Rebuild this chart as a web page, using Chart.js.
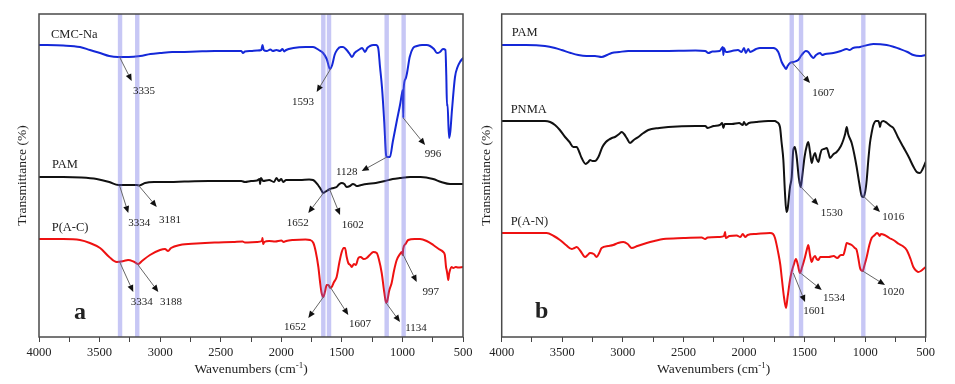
<!DOCTYPE html>
<html><head><meta charset="utf-8">
<script src="https://cdn.jsdelivr.net/npm/chart.js@4.4.1/dist/chart.umd.min.js"></script>
<style>
html,body{margin:0;padding:0;background:#fff;}
#wrap{position:relative;width:955px;height:384px;overflow:hidden;}
.box{position:absolute;top:0;height:384px;}
</style></head><body>
<div id="wrap">
<div class="box" style="left:0;width:478px"><canvas id="ca" width="478" height="384"></canvas></div>
<div class="box" style="left:478px;width:477px"><canvas id="cb" width="477" height="384"></canvas></div>
</div>
<script>
// ---------- Data (wavenumber cm-1, transmittance in arbitrary offset units) ----------
const xTicks = [4000, 3500, 3000, 2500, 2000, 1500, 1000, 500];

// Panel a
const cmcWn = [4000,3800,3662,3580,3496,3420,3348,3260,3166,3080,3001,2900,2836,2700,2550,2398,2330,2316,2300,2250,2200,2165,2155,2145,2120,2090,2070,2040,2010,1990,1975,1960,1900,1800,1738,1690,1655,1625,1598,1580,1560,1540,1510,1490,1460,1435,1416,1395,1375,1350,1333,1320,1309,1290,1268,1240,1218,1200,1185,1169,1150,1135,1128,1103,1080,1045,1020,1003,997,993,990,975,962,940,912,880,838,800,772,740,715,690,665,645,638,632,628,615,605,591,566,545,525,500];
const cmcT  = [292,291.5,290,287,284,281,280,280,281,283,284,285,285,285.5,286,286,286,284,285.5,286,286.5,287,292,287,286,287.5,286,287,286,288,285.5,287,289,290,290,287,284,278,268,272,282,287,290,290,287,283,280,284,286,288,289,287,285,289,291,292,292,289,270,250,215,182,180,180,195,217,232,244,247,219,248,258,264,280,289,291,292,292,291,288,284,285,288,287,262,231,233,199,205,227,260,270,275,279];

const pamAWn = [4000,3800,3650,3524,3420,3344,3260,3194,3170,3125,3050,2919,2800,2600,2400,2330,2300,2250,2200,2180,2175,2168,2150,2100,2060,2040,2020,2000,1985,1960,1900,1845,1770,1738,1697,1670,1653,1640,1625,1598,1570,1543,1520,1501,1480,1460,1433,1408,1390,1378,1340,1295,1220,1144,1080,1020,937,850,747,680,607,550,500];
const pamAT  = [160,160,159.5,158,155,152,152,152,151.5,154,155,155,155.5,156,156,156,155,156,156.5,158,153,159,156,157,155,159,156,158,155,157,157,157,157.5,157,152,147,144,145,146,148,149,150,153,154,153,150,151,153,152,151,152,153,154,156,158,159,160,160,158,155,153,153,153];

const pacWn = [4000,3800,3662,3580,3496,3420,3358,3300,3265,3220,3180,3150,3084,3001,2960,2935,2910,2836,2700,2550,2398,2320,2300,2200,2160,2155,2150,2140,2100,2050,2000,1980,1960,1900,1800,1763,1735,1715,1694,1680,1667,1653,1640,1625,1612,1595,1584,1565,1543,1520,1501,1485,1474,1460,1447,1430,1419,1400,1385,1364,1345,1320,1295,1270,1240,1212,1195,1171,1150,1134,1125,1110,1089,1070,1047,1020,1006,997,994,975,952,900,855,800,745,700,663,650,640,635,628,621,615,607,595,580,560,540,500];
const pacT  = [98,98,97,94,89,80,75,76,77,75.5,73,76,82,87,88,86,89,92,93.5,94.5,95,95.5,94.5,95,96,99,93,95,96,95.5,96.5,95,96,97,97.5,97,94,85,70,55,44,40,45,52,52,49,50,55,60,75,85,89,89,80,74,72,70,73,72,79,80,78,79,82,85,84,78,64,45,34,36,46,54,66,77,83,85,82,88,93,97,98,98,96,92,88,85,82,70,67,62,57,63,67,70,69,70,69.5,70];

// Panel b
const pamBWn = [4000,3800,3643,3560,3505,3430,3368,3300,3230,3175,3130,3092,3030,2955,2800,2679,2400,2320,2294,2260,2200,2175,2170,2165,2150,2100,2050,2020,2000,1985,1965,1950,1900,1868,1758,1717,1689,1665,1653,1640,1620,1593,1552,1530,1510,1490,1469,1445,1428,1405,1372,1355,1330,1262,1200,1152,1130,1100,1042,932,822,760,712,650,602,550,500];
const pamBT  = [292,292,291,289,287,284,282,281,281,280,282,284,285,286,286,286,286.5,286,284,285.5,286,290,282,289,285,286,287,285,289,284,288,285,288,289,289,285,275,270,268,271,274,275,277,281,284,286,285,281,279,282,284,282,283,284,286,288,287,289,290,293,292,290,288,285,282,281,282];

const pnmaWn = [4000,3800,3643,3600,3560,3520,3477,3440,3409,3381,3360,3340,3307,3285,3271,3250,3230,3202,3169,3140,3120,3090,3065,3030,3009,2990,2968,2941,2910,2872,2830,2790,2700,2625,2400,2320,2300,2250,2200,2180,2170,2160,2100,2040,2010,2000,1985,1960,1900,1800,1744,1730,1703,1690,1675,1662,1650,1640,1620,1606,1593,1580,1565,1548,1532,1520,1500,1480,1469,1455,1441,1428,1414,1400,1386,1370,1359,1340,1317,1300,1290,1260,1235,1200,1180,1165,1152,1140,1111,1090,1070,1050,1028,1016,1000,987,975,960,945,932,910,891,880,877,870,850,820,790,767,730,685,640,600,574,547,525,500];
const pnmaT  = [216,216,216,215,212,207,200,195,190,190,185,179,173,175,177,176,176,180,190,195,197,199,200,203,205,203,199,194,197,200,204,207,209,210,211,211,209,211,212,214,209,213,213,214,212,215,212,214,215,216,216,215,210,195,177,145,125,128,150,160,187,190,180,160,150,160,180,192,195,185,174,180,184,178,175,183,187,188,189,183,179,183,185,191,197,203,210,203,194,183,170,155,141,140,145,157,175,194,205,212,216,216,212,210,214,216,214,211,209,200,190,180,170,165,164,168,175];

const panWn = [4000,3800,3629,3570,3519,3470,3422,3400,3381,3350,3312,3290,3271,3240,3216,3195,3175,3120,3079,3040,2996,2960,2927,2880,2803,2740,2666,2500,2350,2320,2300,2200,2165,2156,2150,2120,2060,2030,2010,1990,1970,1900,1785,1760,1744,1717,1700,1689,1670,1653,1640,1620,1607,1590,1571,1555,1538,1520,1496,1480,1469,1455,1441,1428,1414,1400,1386,1370,1345,1300,1260,1230,1200,1180,1165,1152,1130,1111,1085,1070,1055,1042,1020,1005,987,965,946,920,904,890,880,870,840,800,767,720,690,657,625,602,575,561,540,520,500];
const panT  = [104,104,104,101,97,92,88,89,90,86,80,82,84,83,80,84,89,91,92,94,95,93,89,91,94,96,98,99,99.5,98,99.5,100,101,105,99,101,101.5,100,103,100,102,103,104,103,99,84,72,60,40,29,40,57,65,72,78,72,64,70,80,88,92,82,75,79,81,78,77,80,80,80,81,79,82,82,88,94,93,92,89,87,78,69,66,72,80,92,99,102,104,103,101,103,102,99,97,93,91,87,78,70,66,65,66,68,70];

// ---------- Decorations (positions given in data units) ----------
const bandsA = [3331, 3189, 1653, 1606, 1130, 990];
const bandsB = [1606, 1529, 1015];

const namesA = [['CMC-Na',3901,302],['PAM',3893,172],['P(A-C)',3895,109]];
const namesB = [['PAM',3917,304],['PNMA',3926,227],['P(A-N)',3926,115]];

const notesA = [
  ['3335',[3335,280],[3235,256],[3133,246]],
  ['1593',[1593,268],[1708,245],[1821,235]],
  ['1128',[1128,180],[1336,166],[1460,165]],
  ['996',[993,219],[813,192],[747,183]],
  ['3334',[3334,151],[3263,124],[3172,114]],
  ['3181',[3181,152],[3028,130],[2919,117]],
  ['1652',[1652,144],[1777,124],[1864,114]],
  ['1602',[1602,148],[1515,122],[1410,112]],
  ['3334',[3334,75],[3222,45],[3152,35]],
  ['3188',[3188,73],[3015,45],[2910,35]],
  ['1652',[1652,40],[1777,19],[1887,10]],
  ['1607',[1607,52],[1447,22],[1350,13]],
  ['1134',[1134,34],[1020,15],[888,9]],
  ['997',[997,83],[882,55],[767,45]]
];
const notesB = [
  ['1607',[1607,275],[1455,254],[1345,244]],
  ['1530',[1530,150],[1386,132],[1276,124]],
  ['1016',[1016,141],[877,125],[767,120]],
  ['1601',[1593,64],[1496,35],[1419,26]],
  ['1534',[1534,64],[1358,47],[1257,39]],
  ['1020',[1020,66],[836,52],[767,45]]
];

const SERIF = '"Liberation Serif","Times New Roman",serif';

function pts(wn, t){ return wn.map((w,i)=>({x:w, y:t[i]})); }

const deco = {
  id:'deco',
  afterDatasetsDraw(chart, args, o){
    const {ctx, chartArea:a, scales:{x, y}} = chart;
    ctx.save();
    // bands
    ctx.fillStyle = 'rgba(100,100,228,0.36)';
    o.bands.forEach(w=>{ const p = x.getPixelForValue(w); ctx.fillRect(p-2.2, a.top, 4.4, a.bottom-a.top); });
    // frame
    ctx.strokeStyle = '#4a4a4a'; ctx.lineWidth = 1.5;
    ctx.strokeRect(a.left, a.top, a.right-a.left, a.bottom-a.top);
    // series names
    ctx.fillStyle = '#222'; ctx.textBaseline = 'middle'; ctx.textAlign = 'left';
    ctx.font = '12.5px ' + SERIF;
    o.names.forEach(n=>ctx.fillText(n[0], x.getPixelForValue(n[1]), y.getPixelForValue(n[2])));
    // panel letter
    ctx.font = 'bold 24px ' + SERIF; ctx.textAlign = 'center';
    ctx.fillText(o.letter[0], x.getPixelForValue(o.letter[1]), y.getPixelForValue(o.letter[2]));
    // arrows
    ctx.font = '11px ' + SERIF;
    o.notes.forEach(n=>{
      const x0 = x.getPixelForValue(n[1][0]), y0 = y.getPixelForValue(n[1][1]);
      const x1 = x.getPixelForValue(n[2][0]), y1 = y.getPixelForValue(n[2][1]);
      const ang = Math.atan2(y1-y0, x1-x0);
      const L = 7, W = 3;
      ctx.strokeStyle = '#666'; ctx.lineWidth = 1;
      ctx.beginPath(); ctx.moveTo(x0,y0); ctx.lineTo(x1 - L*Math.cos(ang), y1 - L*Math.sin(ang)); ctx.stroke();
      ctx.fillStyle = '#111';
      ctx.beginPath();
      ctx.moveTo(x1, y1);
      ctx.lineTo(x1 - L*Math.cos(ang) + W*Math.sin(ang), y1 - L*Math.sin(ang) - W*Math.cos(ang));
      ctx.lineTo(x1 - L*Math.cos(ang) - W*Math.sin(ang), y1 - L*Math.sin(ang) + W*Math.cos(ang));
      ctx.closePath(); ctx.fill();
      ctx.fillStyle = '#222'; ctx.textAlign = 'center';
      ctx.fillText(n[0], x.getPixelForValue(n[3][0]), y.getPixelForValue(n[3][1]));
    });
    // x title with superscript
    const cx = (a.left + a.right)/2, ty = 368;
    ctx.fillStyle = '#222'; ctx.textAlign = 'left'; ctx.textBaseline = 'alphabetic';
    const t1 = 'Wavenumbers (cm', t2 = '-1', t3 = ')';
    ctx.font = '13.5px ' + SERIF; const w1 = ctx.measureText(t1).width, w3 = ctx.measureText(t3).width;
    ctx.font = '9px ' + SERIF; const w2 = ctx.measureText(t2).width;
    let sx = cx - (w1+w2+w3)/2;
    ctx.font = '13.5px ' + SERIF; ctx.fillText(t1, sx, ty+4.5); sx += w1;
    ctx.font = '9px ' + SERIF; ctx.fillText(t2, sx, ty-0.5); sx += w2;
    ctx.font = '13.5px ' + SERIF; ctx.fillText(t3, sx, ty+4.5);
    ctx.restore();
  }
};

function makeChart(id, series, leftW, rightPad, titlePad, bands, names, letter, notes){
  return new Chart(document.getElementById(id), {
    type:'line',
    data:{ datasets: series.map(s=>({
      data: pts(s[0], s[1]), borderColor: s[2], borderWidth: 2,
      pointRadius: 0, cubicInterpolationMode:'monotone', fill: false,
      borderJoinStyle:'round', borderCapStyle:'round'
    }))},
    options:{
      responsive:false, animation:false, devicePixelRatio:1,
      layout:{ padding:{ top:14, right:rightPad, left:0, bottom:0 } },
      plugins:{ legend:{display:false}, tooltip:{enabled:false},
        deco:{ bands, names, letter, notes } },
      scales:{
        x:{ type:'linear', reverse:true, min:500, max:4000,
          afterBuildTicks(s){ const t=[]; for(let v=500; v<=4000; v+=250) t.push({value:v}); s.ticks = t; },
          ticks:{ autoSkip:false, maxRotation:0, padding:3, color:'#222',
            font:{ family:SERIF, size:12.5 },
            callback:(v)=> xTicks.includes(v) ? String(v) : '' },
          grid:{ drawOnChartArea:false, drawTicks:true, tickLength:5, color:'#444', lineWidth:1 },
          border:{ display:false },
          afterFit(s){ s.height = 47; }
        },
        y:{ type:'linear', min:0, max:323,
          ticks:{ display:false }, grid:{ display:false }, border:{ display:false },
          title:{ display:true, text:'Transmittance (%)', color:'#222',
            font:{ family:SERIF, size:13.5 }, padding:{ top:titlePad, bottom:0 } },
          afterFit(s){ s.width = leftW; }
        }
      }
    },
    plugins:[deco]
  });
}

makeChart('ca', [[cmcWn,cmcT,'#1428d8'],[pamAWn,pamAT,'#111111'],[pacWn,pacT,'#ee1111']],
  39, 15, 14, bandsA, namesA, ['a',3662,24], notesA);
makeChart('cb', [[pamBWn,pamBT,'#1428d8'],[pnmaWn,pnmaT,'#111111'],[panWn,panT,'#ee1111']],
  23.7, 29.3, 0, bandsB, namesB, ['b',3670,25], notesB);
</script>
</body></html>
